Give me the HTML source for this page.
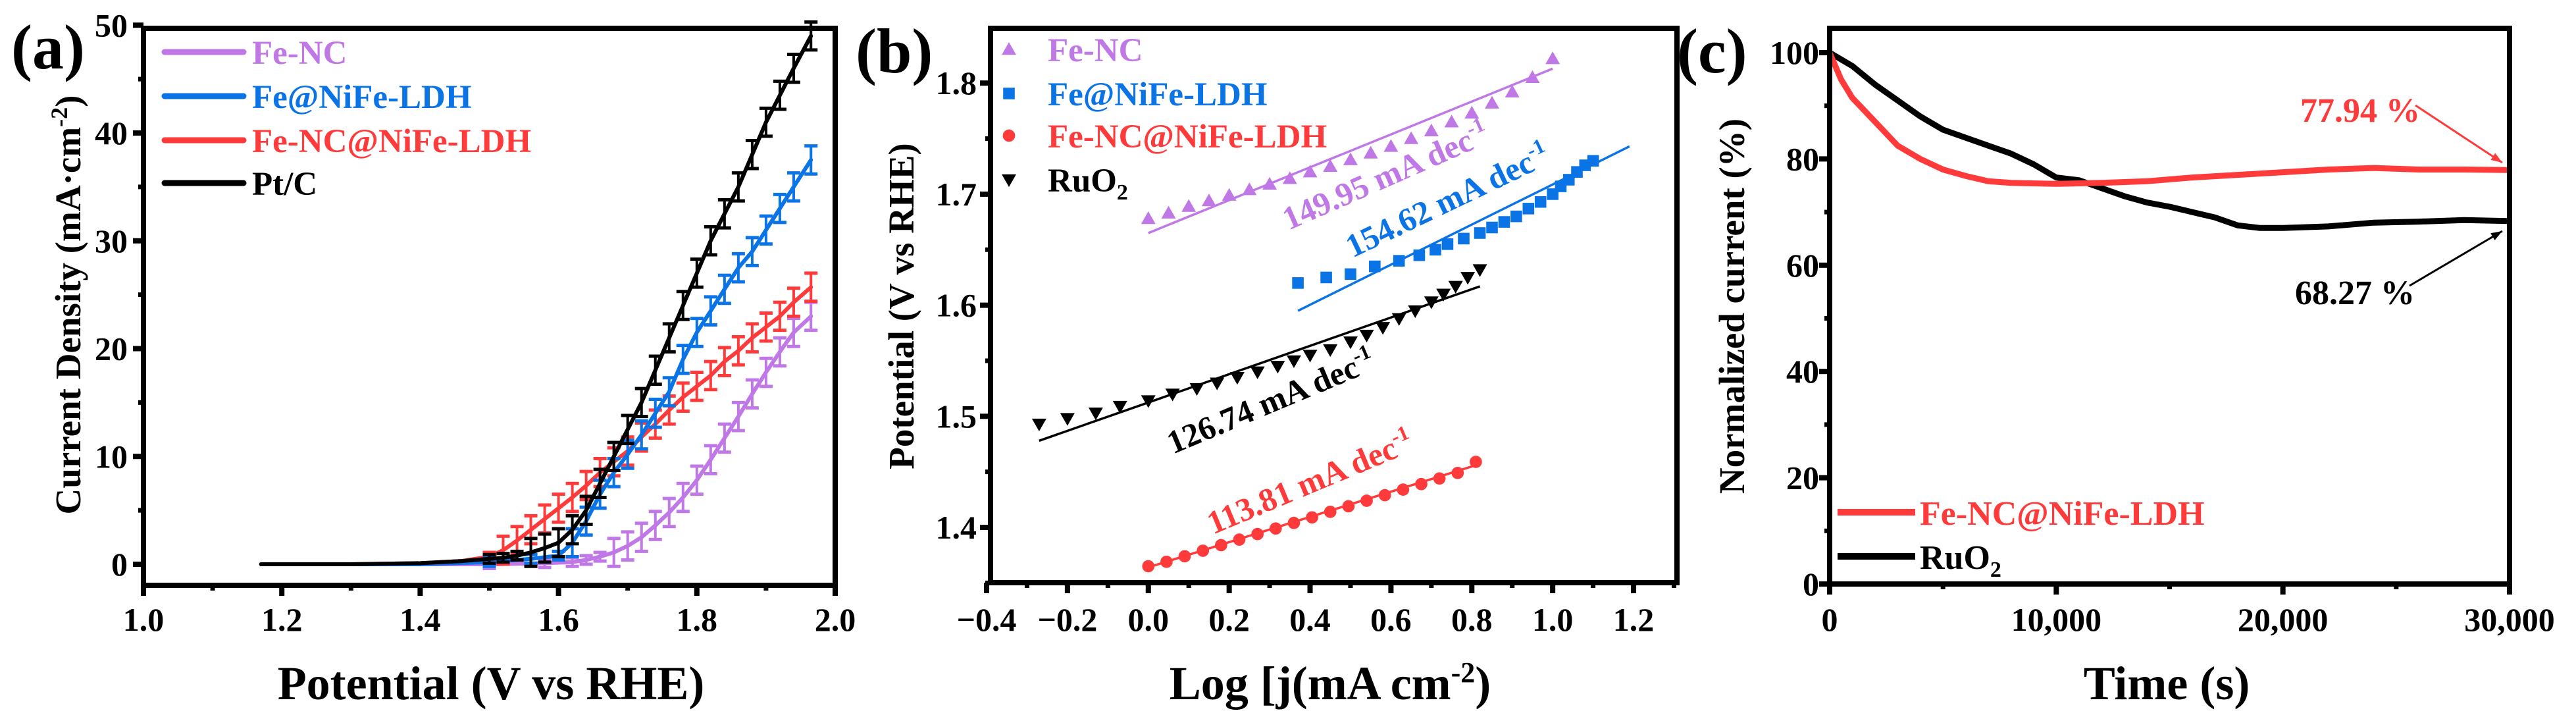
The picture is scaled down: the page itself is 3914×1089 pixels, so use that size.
<!DOCTYPE html>
<html><head><meta charset="utf-8"><style>
html,body{margin:0;padding:0;background:#fff;}
svg{display:block;font-family:"Liberation Serif",serif;font-weight:bold;}
</style></head><body>
<svg id="fig" width="3914" height="1089" viewBox="0 0 3914 1089" xmlns="http://www.w3.org/2000/svg">
<rect width="3914" height="1089" fill="#fff"/>
<g id="pa"></g>
<g id="pb"></g>
<g id="pc"></g>
</svg>
<script>
// ---------- Panel (a) data ----------
const aPtX=[1.17,1.3,1.4,1.46,1.5,1.52,1.54,1.56,1.58,1.6,1.62,1.64,1.66,1.68,1.7,1.72,1.74,1.76,1.78,1.8,1.82,1.84,1.86,1.88,1.9,1.92,1.94,1.965];
const aPtY=[0,0,0.1,0.3,0.5,0.6,0.8,1.1,1.5,2,3.2,5,7.5,10,12.5,15,18,21,24,27,30,32.5,35,38,41,43.5,46,49];
const aFeLdhX=[1.17,1.3,1.4,1.5,1.56,1.6,1.62,1.64,1.66,1.68,1.7,1.72,1.74,1.76,1.78,1.8,1.82,1.84,1.86,1.88,1.9,1.92,1.94,1.965];
const aFeLdhY=[0,0,0,0.2,0.5,0.8,2,4,6.5,8.5,10.2,12,14,16,19,21.5,23.5,25.5,27.5,29,31,33,35,37.5];
const aFeNcLdhX=[1.17,1.3,1.4,1.46,1.5,1.52,1.54,1.56,1.58,1.6,1.62,1.64,1.66,1.68,1.7,1.72,1.74,1.76,1.78,1.8,1.82,1.84,1.86,1.88,1.9,1.92,1.94,1.965];
const aFeNcLdhY=[0,0,0.1,0.3,0.7,1.3,2.2,3.2,4.2,5.2,6.2,7.3,8.5,9.5,10.5,11.8,13,14.3,15.5,16.5,17.5,18.8,19.8,21,22,23,24.3,25.7];
const aFeNcX=[1.17,1.4,1.5,1.58,1.62,1.64,1.66,1.68,1.7,1.72,1.74,1.76,1.78,1.8,1.82,1.84,1.86,1.88,1.9,1.92,1.94,1.965];
const aFeNcY=[0,0,0,0.1,0.2,0.4,0.7,1.1,1.7,2.5,3.6,4.8,6.2,7.8,9.7,11.7,13.7,15.8,17.8,19.7,21.5,23];
const aXTicks=["1.0","1.2","1.4","1.6","1.8","2.0"];
const aYTicks=["0","10","20","30","40","50"];
// ---------- Panel (b) data ----------
const bFeNcX=[0,0.05,0.1,0.15,0.2,0.25,0.3,0.35,0.4,0.45,0.5,0.55,0.6,0.65,0.7,0.75,0.8,0.85,0.9,0.95,1.0];
const bFeNcY=[1.678,1.683,1.689,1.694,1.699,1.704,1.709,1.714,1.72,1.725,1.731,1.737,1.743,1.75,1.757,1.765,1.773,1.782,1.792,1.805,1.822];
const bFeNcFit=[[0,1.665],[1.0,1.813]];
const bFeLdhX=[0.37,0.44,0.5,0.56,0.62,0.67,0.71,0.74,0.78,0.82,0.85,0.88,0.91,0.94,0.97,1.0,1.02,1.04,1.06,1.08,1.1];
const bFeLdhY=[1.62,1.625,1.628,1.635,1.64,1.645,1.65,1.655,1.66,1.665,1.67,1.675,1.68,1.687,1.693,1.7,1.707,1.713,1.72,1.726,1.73];
const bFeLdhFit=[[0.37,1.595],[1.19,1.743]];
const bRuX=[-0.27,-0.2,-0.13,-0.07,0,0.06,0.12,0.17,0.22,0.27,0.32,0.36,0.4,0.45,0.5,0.54,0.58,0.62,0.66,0.7,0.73,0.76,0.79,0.82];
const bRuY=[1.493,1.498,1.503,1.509,1.514,1.52,1.525,1.53,1.535,1.54,1.545,1.55,1.555,1.56,1.567,1.573,1.58,1.588,1.595,1.603,1.61,1.617,1.625,1.632];
const bRuFit=[[-0.27,1.478],[0.82,1.617]];
const bFeNcLdhX=[0,0.045,0.09,0.135,0.18,0.225,0.27,0.315,0.36,0.405,0.45,0.495,0.54,0.585,0.63,0.675,0.72,0.765,0.81];
const bFeNcLdhY=[1.365,1.369,1.374,1.379,1.384,1.389,1.394,1.399,1.404,1.409,1.414,1.419,1.424,1.429,1.434,1.439,1.444,1.449,1.459];
const bFeNcLdhFit=[[0,1.364],[0.81,1.456]];
const bXTicks=["\u22120.4","\u22120.2","0.0","0.2","0.4","0.6","0.8","1.0","1.2"];
const bYTicks=["1.4","1.5","1.6","1.7","1.8"];
// ---------- Panel (c) data ----------
const cRedT=[0,500,1000,2000,3000,4000,5000,6000,7000,8000,10000,12000,14000,16000,18000,20000,22000,24000,26000,28000,30000];
const cRedV=[100,95,91.5,87,82.5,80,78,76.8,75.8,75.5,75.3,75.5,75.8,76.5,77,77.5,78,78.3,78,78,77.9];
const cBlkT=[0,1000,2000,3000,4000,5000,6000,7000,8000,9000,10000,11000,12000,13000,14000,15000,16000,17000,18000,19000,20000,22000,24000,26000,28000,30000];
const cBlkV=[100,97.5,94,91,88,85.5,84,82.5,81,79,76.5,76,74.5,73,71.8,71,70,69,67.5,67,67,67.3,68,68.2,68.5,68.3];
const cXTicks=["0","10,000","20,000","30,000"];
const cYTicks=["0","20","40","60","80","100"];

const NS="http://www.w3.org/2000/svg";
const PUR="#bf78e6",BLU="#0a74e6",RED="#ff3a3a",BLK="#000";
function mk(parent,tag,attrs){const e=document.createElementNS(NS,tag);for(const k in attrs)e.setAttribute(k,attrs[k]);parent.appendChild(e);return e;}
function txt(parent,x,y,s,size,fill,anchor,rot){const t=mk(parent,'text',{x:0,y:0,'font-size':size,fill:fill||'#000','text-anchor':anchor||'start',transform:`translate(${x},${y})`+(rot?` rotate(${rot})`:'')});t.textContent=s;return t;}
function frame(g,L,T,R,B){mk(g,'rect',{x:L,y:T,width:R-L,height:B-T,fill:'none',stroke:'#000','stroke-width':8});}

// ================= Panel A =================
(function(){
const g=document.getElementById('pa');
const L=218,R=1269,T=43,B=889;
const X=v=>L+(v-1.0)/1.0*(R-L);
const Y=v=>857-v*16.375;
aXTicks.forEach((s,i)=>{const v=1.0+i*0.2;const x=X(v);
 const t=mk(g,'line',{x1:x,y1:B,x2:x,y2:B+16,stroke:'#000','stroke-width':8});
 
 if(i<aXTicks.length-1){mk(g,'line',{x1:X(v+0.1),y1:B,x2:X(v+0.1),y2:B+8,stroke:'#000','stroke-width':7});}
 const l=txt(g,x,958,s,50,'#000','middle');});
aYTicks.forEach((s,i)=>{const v=i*10;const y=Y(v);
 mk(g,'line',{x1:L-16,y1:y,x2:L,y2:y,stroke:'#000','stroke-width':8});
 if(i<aYTicks.length-1){mk(g,'line',{x1:L-8,y1:Y(v+5),x2:L,y2:Y(v+5),stroke:'#000','stroke-width':7});}
 const l=txt(g,L-24,y+17,s,50,'#000','end');});
const series=[[aFeNcX,aFeNcY,PUR,'fe-nc-curve'],[aFeNcLdhX,aFeNcLdhY,RED,'fe-nc-nife-ldh-curve'],[aFeLdhX,aFeLdhY,BLU,'fe-nife-ldh-curve'],[aPtX,aPtY,BLK,'pt-c-curve']];
series.forEach(([xs,ys,c,n])=>{
 const p=mk(g,'path',{d:xs.map((v,i)=>(i?'L':'M')+X(v).toFixed(1)+','+Y(ys[i]).toFixed(1)).join(''),fill:'none',stroke:c,'stroke-width':6,'stroke-linejoin':'round','stroke-linecap':'round'});
 
 xs.forEach((v,i)=>{if(v<1.5)return;const e=ys[i]>1?1.3:0.4;const x=X(v);
  mk(g,'line',{x1:x,y1:Y(ys[i]-e),x2:x,y2:Y(ys[i]+e),stroke:c,'stroke-width':4});
  mk(g,'line',{x1:x-10,y1:Y(ys[i]+e),x2:x+10,y2:Y(ys[i]+e),stroke:c,'stroke-width':5});
  mk(g,'line',{x1:x-10,y1:Y(ys[i]-e),x2:x+10,y2:Y(ys[i]-e),stroke:c,'stroke-width':5});});
});
frame(g,L,T,R,B);
const leg=[['Fe-NC',PUR,79],['Fe@NiFe-LDH',BLU,146],['Fe-NC@NiFe-LDH',RED,213],['Pt/C',BLK,278]];
leg.forEach(([s,c,y])=>{const ln=mk(g,'line',{x1:250,y1:y,x2:370,y2:y,stroke:c,'stroke-width':9,'stroke-linecap':'round'});
 
 const t=txt(g,383,y+18,s,51,c);});
const pl=txt(g,17,104,'(a)',96);
const xt=txt(g,746,1062,'Potential (V vs RHE)',72,'#000','middle');
const yt=mk(g,'text',{x:0,y:0,'font-size':55,'text-anchor':'middle',transform:'translate(122,463) rotate(-90)'});
yt.innerHTML='Current Density (mA\u00b7cm<tspan dy="-20" font-size="36">-2</tspan><tspan dy="20">)</tspan>';

})();

// ================= Panel B =================
(function(){
const g=document.getElementById('pb');
const L=1505,R=2548,T=43,B=885;
const X=v=>1499+(v+0.4)*614.4;
const Y=v=>801-(v-1.4)*1687;
bXTicks.forEach((s,i)=>{const v=-0.4+i*0.2;const x=X(v);
 mk(g,'line',{x1:x,y1:B,x2:x,y2:B+16,stroke:'#000','stroke-width':8});
 mk(g,'line',{x1:X(v+0.1),y1:B,x2:X(v+0.1),y2:B+8,stroke:'#000','stroke-width':7});
 const l=txt(g,x,958,s,50,'#000','middle');});
bYTicks.forEach((s,i)=>{const v=1.4+i*0.1;const y=Y(v);
 mk(g,'line',{x1:L-16,y1:y,x2:L,y2:y,stroke:'#000','stroke-width':8});
 mk(g,'line',{x1:L-8,y1:Y(v-0.05),x2:L,y2:Y(v-0.05),stroke:'#000','stroke-width':7});
 const l=txt(g,1484,y+17,s,50,'#000','end');});
function marker(sh,x,y,c,s){if(sh==='tri')return mk(g,'path',{d:`M${x},${y-s}L${x+s},${y+s*0.75}L${x-s},${y+s*0.75}Z`,fill:c});
 if(sh==='dtri')return mk(g,'path',{d:`M${x},${y+s}L${x+s},${y-s*0.75}L${x-s},${y-s*0.75}Z`,fill:c});
 if(sh==='sq')return mk(g,'rect',{x:x-s*0.8,y:y-s*0.8,width:s*1.6,height:s*1.6,fill:c});
 return mk(g,'circle',{cx:x,cy:y,r:s*0.85,fill:c});}
const ser=[[bFeNcX,bFeNcY,bFeNcFit,PUR,'tri','fe-nc'],[bFeLdhX,bFeLdhY,bFeLdhFit,BLU,'sq','fe-nife-ldh'],[bRuX,bRuY,bRuFit,BLK,'dtri','ruo2'],[bFeNcLdhX,bFeNcLdhY,bFeNcLdhFit,RED,'circ','fe-nc-nife-ldh']];
ser.forEach(([xs,ys,fit,c,sh,n])=>{
 const f=mk(g,'line',{x1:X(fit[0][0]),y1:Y(fit[0][1]),x2:X(fit[1][0]),y2:Y(fit[1][1]),stroke:c,'stroke-width':3.5});
 
 xs.forEach((v,i)=>{const m=marker(sh,X(v),Y(ys[i]),c,11);
  });
});
frame(g,L,T,R,B);
const leg=[['Fe-NC',PUR,75,'tri'],['Fe@NiFe-LDH',BLU,142,'sq'],['Fe-NC@NiFe-LDH',RED,206,'circ'],['RuO',BLK,273,'dtri']];
leg.forEach(([s,c,y,sh])=>{const m=marker(sh,1533,y,c,11);
 const t=txt(g,1592,y+18,s,51,c);
 if(s==='RuO'){const sub=mk(t,'tspan',{dy:12,'font-size':34});sub.textContent='2';}});
const ann=[['149.95 mA dec',PUR,1958,350,-23.7],['154.62 mA dec',BLU,2055,392,-25.6],['126.74 mA dec',BLK,1782,690,-22.7],['113.81 mA dec',RED,1843,812,-22.7]];
ann.forEach(([s,c,x,y,r])=>{const t=txt(g,x,y,s,50,c,'start',r);const sp=mk(t,'tspan',{dy:-20,'font-size':32});sp.textContent='-1';
 });
const pl=txt(g,1300,110,'(b)',96);
const xt=mk(g,'text',{x:0,y:0,'font-size':72,'text-anchor':'middle',transform:'translate(2021,1062)'});
xt.innerHTML='Log [j(mA cm<tspan dy="-26" font-size="44">-2</tspan><tspan dy="26">)</tspan>';

const yt=txt(g,1388,465,'Potential (V vs RHE)',55,'#000','middle',-90);
})();

// ================= Panel C =================
(function(){
const g=document.getElementById('pc');
const L=2780,R=3813,T=43,B=887;
const X=v=>L+v/30000*(R-L);
const Y=v=>887-v*8.07;
cXTicks.forEach((s,i)=>{const v=i*10000;const x=X(v);
 mk(g,'line',{x1:x,y1:B,x2:x,y2:B+16,stroke:'#000','stroke-width':8});
 if(i<cXTicks.length-1)mk(g,'line',{x1:X(v+5000),y1:B,x2:X(v+5000),y2:B+8,stroke:'#000','stroke-width':7});
 const l=txt(g,x,958,s,50,'#000','middle');});
cYTicks.forEach((s,i)=>{const v=i*20;const y=Y(v);
 mk(g,'line',{x1:L-16,y1:y,x2:L,y2:y,stroke:'#000','stroke-width':8});
 if(i<cYTicks.length-1)mk(g,'line',{x1:L-8,y1:Y(v+10),x2:L,y2:Y(v+10),stroke:'#000','stroke-width':7});
 const l=txt(g,2764,y+17,s,50,'#000','end');});
[[cBlkT,cBlkV,BLK,'ruo2-curve'],[cRedT,cRedV,RED,'fe-nc-nife-ldh-curve']].forEach(([xs,ys,c,n])=>{
 const p=mk(g,'path',{d:xs.map((v,i)=>(i?'L':'M')+X(v).toFixed(1)+','+Y(ys[i]).toFixed(1)).join(''),fill:'none',stroke:c,'stroke-width':9,'stroke-linejoin':'round'});
 });
frame(g,L,T,R,B);
const leg=[['Fe-NC@NiFe-LDH',RED,778],['RuO',BLK,845]];
leg.forEach(([s,c,y])=>{const ln=mk(g,'line',{x1:2792,y1:y,x2:2910,y2:y,stroke:c,'stroke-width':10});
 
 const t=txt(g,2917,y+19,s,52,c);
 if(s==='RuO'){const sub=mk(t,'tspan',{dy:12,'font-size':34});sub.textContent='2';}});
const a1=txt(g,3495,185,'77.94 %',52,RED);
const a2=txt(g,3487,462,'68.27 %',52,BLK);
function arrow(x1,y1,x2,y2,c,n){const ln=mk(g,'line',{x1,y1,x2,y2,stroke:c,'stroke-width':3});
 const a=Math.atan2(y2-y1,x2-x1),s=18;
 mk(g,'path',{d:`M${x2},${y2}L${x2-s*Math.cos(a-0.35)},${y2-s*Math.sin(a-0.35)}L${x2-s*Math.cos(a+0.35)},${y2-s*Math.sin(a+0.35)}Z`,fill:c});}
arrow(3670,160,3802,247,RED,'arrow-red');
arrow(3661,434,3802,351,BLK,'arrow-black');
const pl=txt(g,2548,110,'(c)',96);
const xt=txt(g,3292,1062,'Time (s)',72,'#000','middle');
const yt=txt(g,2650,465,'Normalized current (%)',55,'#000','middle',-90);
})();
</script>
</body></html>
